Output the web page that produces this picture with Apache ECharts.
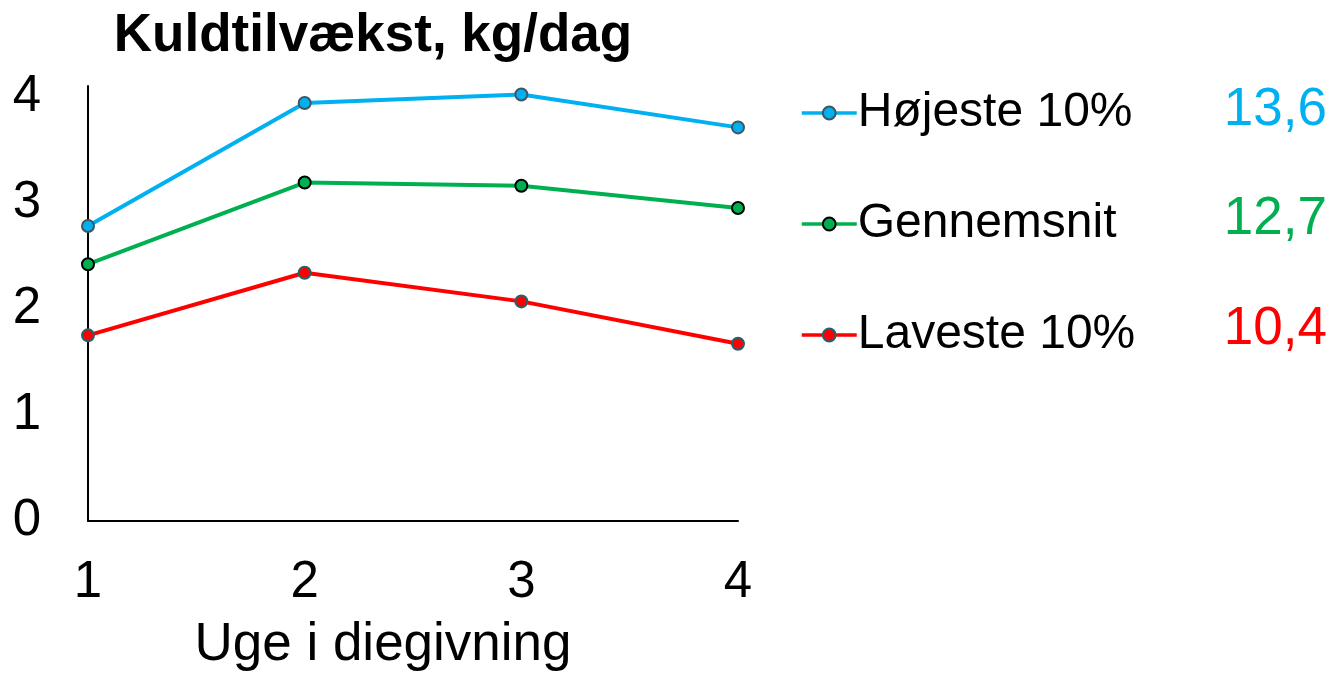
<!DOCTYPE html>
<html>
<head>
<meta charset="utf-8">
<script src="https://cdn.jsdelivr.net/npm/echarts@6/dist/echarts.min.js"></script>
<style>html,body{margin:0;padding:0;background:#fff}#c{width:1330px;height:673px}</style>
</head>
<body>
<div id="c"></div>
<script>
const weeks = ['1', '2', '3', '4'];
const seriesNames = ['Højeste 10%', 'Gennemsnit', 'Laveste 10%'];
const hoejeste = [2.78, 3.94, 4.02, 3.71];
const gennemsnit = [2.42, 3.19, 3.16, 2.95];
const laveste = [1.75, 2.34, 2.07, 1.67];
const totals = ['13,6', '12,7', '10,4'];
const yTicks = [0, 1, 2, 3, 4];

const FONT = '"Liberation Sans", Arial, sans-serif';
const colors = ['#00B0F0', '#00B050', '#FF0000'];
const borders = ['#3F5560', '#000000', '#1F6470'];
const values = [hoejeste, gennemsnit, laveste];

const chart = echarts.init(document.getElementById('c'));
chart.setOption({
  animation: false,
  textStyle: { fontFamily: FONT },
  grid: { left: 88, right: 592, top: 86, bottom: 152, containLabel: false },
  xAxis: {
    type: 'category', data: weeks, boundaryGap: false,
    axisLine: { lineStyle: { color: '#000', width: 2 } },
    axisTick: { show: false },
    axisLabel: { fontSize: 51, color: '#000', margin: 36, fontFamily: FONT }
  },
  yAxis: {
    type: 'value', min: 0, max: 4.1, interval: 1,
    axisLine: { show: true, lineStyle: { color: '#000', width: 2 } },
    axisTick: { show: false },
    splitLine: { show: false },
    axisLabel: {
      fontSize: 51, color: '#000', margin: 47, fontFamily: FONT,
      formatter: v => (yTicks.includes(v) ? String(v) : '')
    }
  },
  legend: {
    orient: 'vertical', left: 795, top: 84,
    itemWidth: 55, itemHeight: 16, itemGap: 63,
    lineStyle: { width: 3.5 },
    textStyle: { fontSize: 48, color: '#000', fontFamily: FONT, padding: [0, 0, 0, -4] },
    data: seriesNames
  },
  series: seriesNames.map((n, i) => ({
    name: n, type: 'line', data: values[i],
    symbol: 'circle', symbolSize: 12,
    lineStyle: { color: colors[i], width: 4 },
    itemStyle: { color: colors[i], borderColor: borders[i], borderWidth: 2 }
  })),
  graphic: [
    { type: 'text', style: { text: 'Kuldtilvækst, kg/dag', font: 'bold 53px ' + FONT, fill: '#000', textAlign: 'center', textVerticalAlign: 'middle' }, position: [373, 36] },
    { type: 'text', style: { text: 'Uge i diegivning', font: '53px ' + FONT, fill: '#000', textAlign: 'center', textVerticalAlign: 'middle' }, position: [383, 645] },
    ...totals.map((t, i) => ({
      type: 'text', style: { text: t, font: '53px ' + FONT, fill: colors[i], textAlign: 'right', textVerticalAlign: 'middle' },
      position: [1327, 110.5 + i * 109.3]
    }))
  ]
});
</script>
</body>
</html>
